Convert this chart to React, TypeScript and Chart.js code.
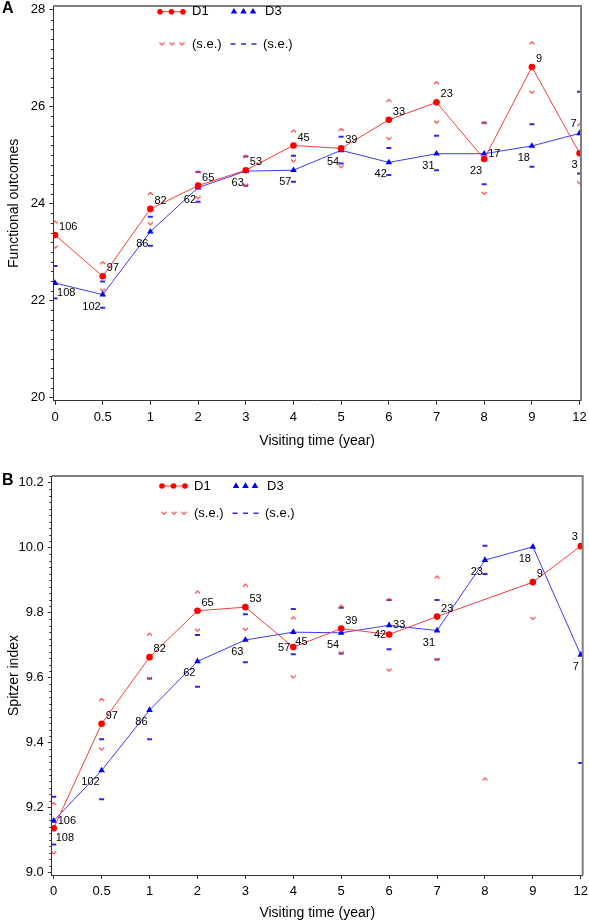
import React, { useEffect, useRef } from "react";
import { Chart, registerables } from "chart.js";
Chart.register(...registerables);

const FONT = "'Liberation Sans', Arial, Helvetica, sans-serif";

// ---------- shared categories ----------
const visitLabels = ["0", "0.5", "1", "2", "3", "4", "5", "6", "7", "8", "9", "12"];
const xTitle = "Visiting time (year)";

// ---------- Panel A: Functional outcomes ----------
const aTicks = [20, 22, 24, 26, 28];
const aD1Mean = [23.35, 22.5, 23.89, 24.37, 24.69, 25.2, 25.14, 25.73, 26.09, 24.92, 26.82, 25.04];
const aD3Mean = [22.36, 22.12, 23.42, 24.33, 24.67, 24.69, 25.1, 24.85, 25.03, 25.03, 25.19, 25.45];
const aD1Upper = [23.62, 22.78, 24.21, 24.66, 24.98, 25.5, 25.53, 26.13, 26.5, 25.67, 27.32, 25.63];
const aD1Lower = [23.1, 22.21, 23.58, 24.12, 24.38, 24.88, 24.76, 25.34, 25.68, 24.21, 26.3, 24.43];
const aD3Upper = [22.71, 22.39, 23.73, 24.65, 24.97, 24.99, 25.38, 25.15, 25.4, 25.67, 25.64, 26.31];
const aD3Lower = [22.04, 21.85, 23.13, 24.04, 24.37, 24.45, 24.83, 24.59, 24.69, 24.4, 24.76, 24.62];
const aD1N = [106, 97, 82, 65, 53, 45, 39, 33, 23, 23, 9, 3];
const aD3N = [108, 102, 86, 62, 63, 57, 54, 42, 31, 17, 18, 7];

// ---------- Panel B: Spitzer index ----------
const bTicks = [9.0, 9.2, 9.4, 9.6, 9.8, 10.0, 10.2];
const bD1Mean = [9.136, 9.458, 9.663, 9.806, 9.817, 9.694, 9.751, 9.733, 9.788, null, 9.894, 10.005];
const bD3Mean = [9.159, 9.314, 9.5, 9.65, 9.716, 9.74, 9.738, 9.761, 9.745, 9.962, 10.003, 9.67];
const bD1Upper = [9.212, 9.533, 9.734, 9.864, 9.885, 9.784, 9.82, 9.841, 9.91, 9.288, null, null];
const bD1Lower = [9.06, 9.38, 9.597, 9.746, 9.748, 9.602, 9.676, 9.623, 9.656, null, 9.782, null];
const bD3Upper = [9.233, 9.41, 9.597, 9.731, 9.795, 9.811, 9.815, 9.839, 9.839, 10.006, null, null];
const bD3Lower = [9.086, 9.225, 9.41, 9.572, 9.647, 9.672, 9.674, 9.687, 9.656, 9.919, null, 9.337];
const bD1N = [108, 97, 82, 65, 53, 57, 39, 42, 23, null, 9, 3];
const bD3N = [106, 102, 86, 62, 63, 45, 54, 33, 31, 23, 18, 7];

// label placement codes (style only)
const aD1Pos = ["ur", "ur", "ur", "ur", "ur", "ur", "ur", "ur", "ur", "ll", "ur", "ll"];
const aD3Pos = ["lr", "ll", "ll", "ll", "ll", "ll", "ll", "ll", "ll", "r", "ll", "ul"];
const bD1Pos = ["lr", "ur", "ur", "ur", "ur", "l", "ur", "l", "ur", "", "ur", "ul"];
const bD3Pos = ["r", "ll", "ll", "ll", "ll", "lr", "ll", "r", "ll", "ll", "ll", "ll"];

const RED = "#ff0000";
const RED_LINE = "rgba(245,60,60,1)";
const RED_SE = "#ee4040";
const BLUE = "#0000ff";
const BLUE_LINE = "rgba(60,60,245,1)";
const BLUE_SE = "#2a2ae6";

function chevron(up: boolean): HTMLCanvasElement {
  const c = document.createElement("canvas");
  c.width = 7;
  c.height = 5;
  const ctx = c.getContext("2d")!;
  ctx.strokeStyle = RED_SE;
  ctx.lineWidth = 1.1;
  ctx.beginPath();
  if (up) {
    ctx.moveTo(1, 4);
    ctx.lineTo(3.5, 1.5);
    ctx.lineTo(6, 4);
  } else {
    ctx.moveTo(1, 1);
    ctx.lineTo(3.5, 3.5);
    ctx.lineTo(6, 1);
  }
  ctx.stroke();
  return c;
}

interface PanelSpec {
  letter: string;
  letterY: number;
  yTitle: string;
  yMin: number;
  yMax: number;
  yMajor: number[];
  yMinorStep: number;
  yDecimals: number;
  xMin: number;
  xMax: number;
  d1: (number | null)[];
  d3: (number | null)[];
  d1Up: (number | null)[];
  d1Lo: (number | null)[];
  d3Up: (number | null)[];
  d3Lo: (number | null)[];
  d1N: (number | null)[];
  d3N: (number | null)[];
  d1Pos: string[];
  d3Pos: string[];
  height: number;
  padTop: number;
  padRight: number;
  yWidth: number;
  xHeight: number;
  xTitlePad: number;
  legendY1: number;
  legendY2: number;
  legendDx: number;
}

const panelA: PanelSpec = {
  letter: "A",
  letterY: 9,
  yTitle: "Functional outcomes",
  yMin: 19.93,
  yMax: 28.08,
  yMajor: aTicks,
  yMinorStep: 0.2,
  yDecimals: 0,
  xMin: -0.036,
  xMax: 11.03,
  d1: aD1Mean,
  d3: aD3Mean,
  d1Up: aD1Upper,
  d1Lo: aD1Lower,
  d3Up: aD3Upper,
  d3Lo: aD3Lower,
  d1N: aD1N,
  d3N: aD3N,
  d1Pos: aD1Pos,
  d3Pos: aD3Pos,
  height: 460,
  padTop: 4,
  padRight: 8,
  yWidth: 53.3,
  xHeight: 59.3,
  xTitlePad: 10.6,
  legendY1: 11.7,
  legendY2: 44,
  legendDx: 0,
};

const panelB: PanelSpec = {
  letter: "B",
  letterY: 21,
  yTitle: "Spitzer index",
  yMin: 8.992,
  yMax: 10.221,
  yMajor: bTicks,
  yMinorStep: 0.02,
  yDecimals: 1,
  xMin: -0.04,
  xMax: 11.04,
  d1: bD1Mean,
  d3: bD3Mean,
  d1Up: bD1Upper,
  d1Lo: bD1Lower,
  d3Up: bD3Upper,
  d3Lo: bD3Lower,
  d1N: bD1N,
  d3N: bD3N,
  d1Pos: bD1Pos,
  d3Pos: bD3Pos,
  height: 462,
  padTop: 16,
  padRight: 6.3,
  yWidth: 51.8,
  xHeight: 47,
  xTitlePad: 0.3,
  legendY1: 26,
  legendY2: 53.3,
  legendDx: 2,
};

const pts = (arr: (number | null)[]) => arr.map((v, i) => ({ x: i, y: v }));

function buildConfig(spec: PanelSpec): any {
  const up = chevron(true);
  const down = chevron(false);

  const overlay = {
    id: "overlay_" + spec.letter,
    afterDatasetsDraw(chart: any) {
      const ctx = chart.ctx;
      ctx.save();
      ctx.font = `11px ${FONT}`;
      ctx.fillStyle = "#000";
      ctx.textBaseline = "middle";
      [0, 1].forEach((di) => {
        const ds = chart.data.datasets[di];
        const meta = chart.getDatasetMeta(di);
        const counts = ds.countLabels as (number | null)[];
        const pos = ds.labelPos as string[];
        meta.data.forEach((el: any, j: number) => {
          const n = counts[j];
          if (n === null || n === undefined || !pos[j]) return;
          const y0 = ds.data[j].y;
          if (y0 === null) return;
          let x = el.x;
          let y = el.y;
          let align: CanvasTextAlign = "left";
          switch (pos[j]) {
            case "ur": x += 4; y -= 8; break;
            case "ul": x -= 3; y -= 9; align = "right"; break;
            case "lr": x += 2; y += 10; break;
            case "ll": x -= 2; y += 12; align = "right"; break;
            case "r": x += 4; y += 0; break;
            case "l": x -= 3; y += 1; align = "right"; break;
          }
          ctx.textAlign = align;
          ctx.fillText(String(n), x, y);
        });
      });
      ctx.restore();
    },
    afterDraw(chart: any) {
      const ctx = chart.ctx;
      const ca = chart.chartArea;
      const ys = chart.scales.y;
      ctx.save();
      // top & right frame
      ctx.strokeStyle = "#808080";
      ctx.lineWidth = 2;
      ctx.beginPath();
      ctx.moveTo(ca.left, ca.top);
      ctx.lineTo(ca.right, ca.top);
      ctx.lineTo(ca.right, ca.bottom);
      ctx.stroke();
      // minor ticks
      ctx.strokeStyle = "#333";
      ctx.lineWidth = 1;
      const step = spec.yMinorStep;
      ctx.beginPath();
      for (let k = Math.ceil(spec.yMin / step - 1e-9); k * step <= spec.yMax + 1e-9; k++) {
        const v = k * step;
        if (spec.yMajor.some((m) => Math.abs(m - v) < step / 10)) continue;
        const py = Math.round(ys.getPixelForValue(v)) + 0.5;
        ctx.moveTo(ca.left - 2.5, py);
        ctx.lineTo(ca.left, py);
      }
      ctx.stroke();

      // legend
      const dx = spec.legendDx;
      const y1 = spec.legendY1;
      const y2 = spec.legendY2;
      ctx.strokeStyle = RED_LINE;
      ctx.lineWidth = 1;
      ctx.beginPath();
      ctx.moveTo(160 + dx, y1);
      ctx.lineTo(183 + dx, y1);
      ctx.stroke();
      ctx.fillStyle = RED;
      [160, 171.5, 183].forEach((px) => {
        ctx.beginPath();
        ctx.arc(px + dx, y1, 2.8, 0, Math.PI * 2);
        ctx.fill();
      });
      ctx.fillStyle = BLUE;
      [234, 243.5, 253].forEach((px) => {
        const r = 3.8;
        ctx.beginPath();
        ctx.moveTo(px + dx, y1 - r);
        ctx.lineTo(px + dx + r * 0.866, y1 + r * 0.5);
        ctx.lineTo(px + dx - r * 0.866, y1 + r * 0.5);
        ctx.closePath();
        ctx.fill();
      });
      [162, 172, 182].forEach((px) => {
        ctx.drawImage(down, px + dx - 3.5, y2 - 2.5);
      });
      ctx.strokeStyle = BLUE_SE;
      ctx.lineWidth = 1.5;
      ctx.beginPath();
      [233, 243.5, 254].forEach((px) => {
        ctx.moveTo(px + dx - 2.5, y2);
        ctx.lineTo(px + dx + 2.5, y2);
      });
      ctx.stroke();
      ctx.fillStyle = "#000";
      ctx.font = `13px ${FONT}`;
      ctx.textAlign = "left";
      ctx.textBaseline = "middle";
      ctx.fillText("D1", 192 + dx, y1);
      ctx.fillText("D3", 265 + dx, y1);
      ctx.fillText("(s.e.)", 192 + dx, y2);
      ctx.fillText("(s.e.)", 263 + dx, y2);

      // panel letter
      ctx.font = `bold 16px ${FONT}`;
      ctx.textBaseline = "middle";
      ctx.fillText(spec.letter, 2, spec.letterY);
      ctx.restore();
    },
  };

  return {
    type: "line",
    data: {
      datasets: [
        {
          label: "D1",
          data: pts(spec.d1),
          borderColor: RED_LINE,
          borderWidth: 1,
          pointStyle: "circle",
          pointRadius: 3.3,
          pointBackgroundColor: RED,
          pointBorderColor: RED,
          pointBorderWidth: 0,
          spanGaps: true,
          tension: 0,
          countLabels: spec.d1N,
          labelPos: spec.d1Pos,
        },
        {
          label: "D3",
          data: pts(spec.d3),
          borderColor: BLUE_LINE,
          borderWidth: 1,
          pointStyle: "triangle",
          pointRadius: 3.8,
          pointBackgroundColor: BLUE,
          pointBorderColor: BLUE,
          pointBorderWidth: 0,
          spanGaps: true,
          tension: 0,
          countLabels: spec.d3N,
          labelPos: spec.d3Pos,
        },
        {
          label: "D1 s.e. upper",
          data: pts(spec.d1Up),
          showLine: false,
          pointStyle: up,
          pointRadius: 3,
        },
        {
          label: "D1 s.e. lower",
          data: pts(spec.d1Lo),
          showLine: false,
          pointStyle: down,
          pointRadius: 3,
        },
        {
          label: "D3 s.e. upper",
          data: pts(spec.d3Up),
          showLine: false,
          pointStyle: "line",
          pointRadius: 2.5,
          pointBorderColor: BLUE_SE,
          pointBorderWidth: 2,
        },
        {
          label: "D3 s.e. lower",
          data: pts(spec.d3Lo),
          showLine: false,
          pointStyle: "line",
          pointRadius: 2.5,
          pointBorderColor: BLUE_SE,
          pointBorderWidth: 2,
        },
      ],
    },
    options: {
      animation: false,
      responsive: false,
      devicePixelRatio: 1,
      layout: { padding: { top: spec.padTop, right: spec.padRight, left: 0, bottom: 0 } },
      plugins: {
        legend: { display: false },
        tooltip: { enabled: false },
      },
      scales: {
        x: {
          type: "linear",
          min: spec.xMin,
          max: spec.xMax,
          afterBuildTicks: (s: any) => {
            s.ticks = visitLabels.map((_, i) => ({ value: i }));
          },
          afterFit: (s: any) => {
            s.height = spec.xHeight;
            s.paddingLeft = 0;
            s.paddingRight = 0;
            s.paddingTop = 0;
            s.paddingBottom = 0;
          },
          ticks: {
            autoSkip: false,
            maxRotation: 0,
            padding: 4.8,
            color: "#000",
            font: { family: FONT, size: 13 },
            callback: (v: any) => visitLabels[Math.round(Number(v))],
          },
          grid: { drawOnChartArea: false, drawTicks: true, tickLength: 4, tickColor: "#333", tickWidth: 1 },
          border: { display: true, color: "#333", width: 1 },
          title: {
            display: true,
            text: xTitle,
            color: "#000",
            font: { family: FONT, size: 14 },
            padding: { top: 0, bottom: spec.xTitlePad },
          },
        },
        y: {
          type: "linear",
          min: spec.yMin,
          max: spec.yMax,
          afterBuildTicks: (s: any) => {
            s.ticks = spec.yMajor.map((v) => ({ value: v }));
          },
          afterFit: (s: any) => {
            s.width = spec.yWidth;
            s.paddingTop = 0;
            s.paddingBottom = 0;
            s.paddingLeft = 0;
            s.paddingRight = 0;
          },
          ticks: {
            padding: 4,
            color: "#000",
            font: { family: FONT, size: 13 },
            callback: (v: any) => Number(v).toFixed(spec.yDecimals),
          },
          grid: { drawOnChartArea: false, drawTicks: true, tickLength: 4, tickColor: "#333", tickWidth: 1 },
          border: { display: true, color: "#333", width: 1 },
          title: {
            display: true,
            text: spec.yTitle,
            color: "#000",
            font: { family: FONT, size: 14 },
            padding: { top: 5.6, bottom: 0 },
          },
        },
      },
    },
    plugins: [overlay],
  };
}

function Panel({ spec }: { spec: PanelSpec }) {
  const ref = useRef<HTMLCanvasElement>(null);
  useEffect(() => {
    const canvas = ref.current;
    if (!canvas) return;
    const chart = new Chart(canvas, buildConfig(spec));
    return () => chart.destroy();
  }, [spec]);
  return (
    <canvas
      ref={ref}
      width={589}
      height={spec.height}
      style={{ display: "block", width: 589, height: spec.height }}
    />
  );
}

export default function App() {
  return (
    <div
      style={{
        position: "absolute",
        left: 0,
        top: 0,
        width: 589,
        height: 922,
        background: "#fff",
        overflow: "hidden",
      }}
    >
      <Panel spec={panelA} />
      <Panel spec={panelB} />
    </div>
  );
}
